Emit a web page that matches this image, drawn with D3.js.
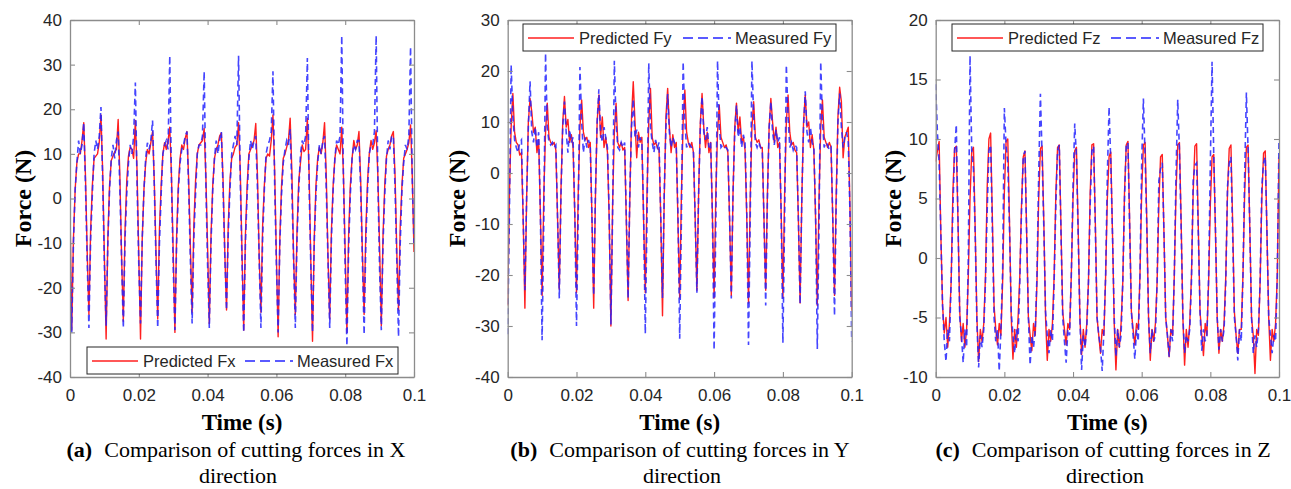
<!DOCTYPE html>
<html>
<head>
<meta charset="utf-8">
<script src="https://cdn.jsdelivr.net/npm/d3@7"></script>
<style>
  body { margin: 0; background: #fff; }
</style>
</head>
<body>
<svg id="chart" width="1291" height="489"></svg>
<script>
// sampled signals, one value every dt seconds from t = 0 to t = 0.1
const dt = 0.0005;

const timeTicks = [0, 0.02, 0.04, 0.06, 0.08, 0.1];
const timeTickLabels = ['0', '0.02', '0.04', '0.06', '0.08', '0.1'];
const fxTicks = [-40, -30, -20, -10, 0, 10, 20, 30, 40];
const fyTicks = [-40, -30, -20, -10, 0, 10, 20, 30];
const fzTicks = [-10, -5, 0, 5, 10, 15, 20];

const fxPred = [
  -2,
  -29.5, -9, 2, 8, 10, 10, 13, 17, 5, -12,
  -26, -7, 3, 9, 9.5, 10, 12.5, 18.7, 6, -13,
  -31.5, -9, 3, 8.5, 9.5, 10.5, 11, 17.7, 5, -13,
  -27.5, -7, 4, 9.5, 11.5, 11, 9, 17.5, 6, -13,
  -31.5, -9, 2, 8, 11, 10, 12.5, 15, 4, -12,
  -27, -7, 3, 10, 12.5, 11, 13, 16, 5, -12,
  -30, -8, 3, 9, 12, 11, 13.5, 15, 4, -11,
  -25.5, -6, 4, 10, 12, 12.5, 13, 15.7, 5, -11,
  -28, -8, 3, 9, 11, 12, 14, 14.7, 4, -12,
  -25, -6, 4, 9, 10, 11.5, 12, 17, 6, -12,
  -29.5, -8, 3, 10, 11, 12, 13, 16.8, 5, -13,
  -25.5, -6, 3, 9, 10, 9.5, 13, 18.7, 6, -13,
  -31, -9, 3, 9, 10, 11.5, 13, 18, 6, -13,
  -26, -7, 4, 8, 12, 10.5, 11, 18, 6, -14,
  -32, -9, 3, 9, 11.5, 10, 12.5, 17, 5, -13,
  -27, -7, 3, 9, 12, 11, 10, 16, 5, -12,
  -30, -8, 3, 9, 13, 11, 12, 15, 4, -12,
  -26, -7, 4, 10, 13, 11, 12.5, 15.2, 5, -11,
  -28.5, -8, 3, 9.5, 11, 12, 14, 15, 5, -12,
  -25, -6, 3, 9, 10, 11, 12.5, 16.5, 5, -12
];

const fxMeas = [
  -12,
  -30, -10, 2, 8, 13, 10, 12, 17, 3, -14,
  -29, -9, 1, 10, 13, 11, 14, 20.5, 4, -15,
  -28.5, -10, 2, 9, 12, 9, 13, 15, 2, -14,
  -29, -9, 1, 8, 12, 10, 14, 26, 3, -15,
  -28, -9, 2, 9, 12.5, 11, 13, 17.5, 3, -14,
  -29, -10, 1, 10, 12, 13, 11, 32, 4, -15,
  -29.5, -10, 2, 8, 11, 12, 14, 15, 2, -14,
  -28, -9, 1, 10, 12, 12, 14, 28.5, 3, -15,
  -29, -10, 2, 9, 13, 10, 13, 15, 2, -13,
  -25, -8, 2, 10, 12, 14, 12, 32, 4, -14,
  -30, -10, 1, 9, 13, 11, 13, 14, 2, -14,
  -29, -9, 2, 10, 12, 13, 15, 28.5, 3, -15,
  -30, -10, 1, 8, 11, 13, 12, 15.5, 2, -14,
  -29, -9, 2, 10, 13, 12, 14, 31.5, 3, -15,
  -30, -10, 1, 8, 12, 10, 13, 14, 2, -14,
  -29, -9, 2, 9, 13, 12, 14, 36.5, 4, -16,
  -33, -11, 1, 9, 12, 11, 13, 13, 2, -14,
  -30.5, -10, 2, 10, 12, 12, 15, 36.5, 4, -16,
  -29.5, -10, 1, 9, 13, 11, 14, 14, 2, -14,
  -31, -10, 2, 8, 12, 11, 14, 34, 4, -10
];

const fyPred = [
  -26, -4, 9, 15.6, 8, 6, 5.5, 3.5, 4, -9,
  -26.5, -5, 10, 14.6, 12, 8, 9, 4, 6.5, -8,
  -24, -4, 8, 13.7, 7, 6, 5.5, 6, 4.5, -9,
  -22.8, -3, 10, 15, 9, 10.5, 6, 7.5, 5, -8,
  -23.5, -4, 9, 14.3, 8, 6.5, 7, 5, 6, -9,
  -26.5, -5, 10, 15.3, 7, 11, 5, 7, 4, -9,
  -30, -6, 8, 13.7, 6, 5, 6, 4.5, 5, -10,
  -25, -5, 11, 17.9, 10, 3, 8, 6, 7, -9,
  -23.5, -4, 10, 16.6, 7, 5.5, 6, 5, 4.5, -9,
  -28, -5, 11, 16.6, 9, 4, 7.5, 5, 6, -10,
  -24.5, -4, 10, 16.3, 8, 6, 5, 6, 4, -9,
  -23, -4, 10, 15.6, 9, 5, 8, 4, 6, -8,
  -24.5, -4, 8, 13.3, 7, 6, 5, 5.5, 4, -9,
  -24, -4, 9, 13.7, 8, 11, 6, 7, 4.5, -9,
  -25.5, -5, 9, 14, 7, 6, 6.5, 5, 5, -9,
  -23, -4, 9, 14.6, 10, 6, 9, 5, 6, -8,
  -24.5, -4, 10, 15.3, 8, 5.5, 6, 4.5, 4, -9,
  -25.5, -5, 10, 15.3, 9, 10, 5, 7.5, 4.5, -9,
  -26, -5, 9, 14.3, 7, 6, 5, 6, 5, -9,
  -24, -4, 11, 16.8, 14, 3, 7, 8, 9, -7,
  -27
];

const fyMeas = [
  -31.6, -8, 21.2, 11, 6.5, 5, 4, 6, 6.5, -9,
  -23, -5, 9, 18, 8, 6, 9, 5, 8, -8,
  -32.8, -9, 23.5, 9, 6, 5.5, 6, 5, 5.5, -9,
  -24.6, -4, 9, 14, 8, 4, 8.5, 6, 7, -8,
  -30, -8, 20.8, 10, 4, 7, 5, 6.5, 5, -9,
  -24, -4, 10, 16.4, 8, 6, 9, 7, 5, -8,
  -29.7, -8, 22, 10, 5, 4.5, 6, 5, 6, -9,
  -24.6, -4, 9, 14.5, 7, 8.5, 5, 7, 6, -8,
  -31.5, -9, 21.5, 9, 6, 4, 6.5, 5, 6, -9,
  -24.5, -4, 9, 15.5, 8, 5, 7, 6, 5, -8,
  -32.5, -9, 21.8, 10, 5, 6, 5.5, 5, 4, -9,
  -23.5, -4, 9, 15, 8, 6.5, 9, 5, 6, -8,
  -34.7, -10, 22, 9, 5, 5.5, 5, 5, 4.5, -9,
  -24.6, -4, 8, 13.3, 7, 9, 5, 7.5, 6, -8,
  -33.7, -9, 22, 11, 6, 5, 6, 5, 4.5, -9,
  -26, -5, 9, 14, 8, 5.5, 8.5, 6, 7, -8,
  -33.3, -9, 21.2, 11, 5, 6, 4.5, 5.5, 5, -9,
  -25.7, -5, 9, 16, 8, 6, 9, 6, 5, -8,
  -34.5, -10, 21.8, 10, 5, 6, 5.5, 4.5, 5, -9,
  -28, -6, 10, 15.6, 9, 5, 7, 8, 6, -8,
  -33
];

const fzPred = [
  8.1, 9, 9.8, 2, -4, -6.3, -5, -7.5, -5.5, -2,
  5.5, 9.2, 9.4, 3, -4.5, -7, -5.5, -7.5, -6, -1.5,
  5, 9, 9.3, 2.5, -5, -8.7, -6, -7, -5.5, -1.5,
  6, 10, 10.5, 3.5, -4, -6, -7.3, -5.5, -6.5, -2,
  5.5, 9.8, 10, 3, -5, -8.5, -6, -7.5, -5, -1.5,
  4.5, 8.5, 9, 2, -5, -6.5, -7.8, -5.5, -6.5, -2,
  5, 9.2, 9.4, 3, -5, -8.6, -6, -7, -5.5, -1.5,
  5.5, 9.3, 9.5, 2.5, -4.5, -6, -7.3, -5.5, -6, -1.5,
  5, 9, 9.3, 2.5, -5, -8.1, -6, -7.5, -5.5, -2,
  5.5, 9.5, 9.6, 3, -5, -6.5, -8, -6, -6.5, -1.5,
  5, 8.5, 8.9, 2, -5.5, -9.4, -6, -7.5, -5.5, -2,
  5.5, 9.5, 9.8, 3, -4.5, -6, -7.3, -5.5, -6, -1.5,
  5.5, 9.5, 9.7, 3, -5, -8.6, -6, -7, -5.5, -2,
  4.5, 8.5, 8.7, 2, -5, -6.5, -8.3, -6, -6.5, -1.5,
  5.5, 9.5, 9.7, 3, -5, -9, -6, -7.5, -5.5, -1.5,
  5.5, 9.4, 9.6, 2.5, -4.5, -6.5, -8.2, -5.5, -6.5, -2,
  4.5, 8.5, 8.7, 2, -5, -8, -6, -7, -5.5, -1.5,
  5.5, 9.2, 9.5, 3, -4.5, -6.5, -8, -6, -6, -1.5,
  5.5, 9.3, 9.5, 2.5, -5, -6.5, -9.7, -6, -6.5, -2,
  5, 8.8, 9, 2, -5, -8.6, -6, -7, -5.5, -1.5,
  8.5
];

const fzMeas = [
  14.6, 10.5, 8, 2, -4, -7, -8.7, -6, -7, -2,
  4, 9, 11.2, 3, -5, -6.5, -8.8, -6, -7.5, 0,
  17, 9, 7.5, 2, -5.5, -9.2, -6.5, -7.5, -6, -2,
  4, 9, 9.5, 2.5, -5, -7, -6, -9.5, -6, -1,
  12.6, 9.5, 8, 2.5, -4.5, -6.5, -8, -6, -7, -2,
  4, 8.5, 9, 2, -5, -9, -6.5, -7.5, -6, -1.5,
  7, 13.8, 8.5, 2.5, -4.5, -6.5, -8, -6, -7, -2,
  4.5, 9, 9.5, 2, -5, -7, -8.8, -6, -6.5, -1.5,
  6, 11.3, 8.5, 2, -5, -9.4, -6.5, -7.5, -6, -2,
  4.5, 9, 9.4, 2.5, -5, -6.5, -7.5, -9.5, -6, -1.5,
  7, 12.7, 8, 2, -5, -8.3, -6, -7.5, -6.5, -2,
  5, 9.5, 9.7, 2.5, -4.5, -6.5, -8.5, -6, -7, -1.5,
  8, 13.4, 8.5, 2.5, -5, -8, -6, -7, -6.5, -2,
  6.5, 7.5, 8, 2, -5, -6.5, -8.3, -6, -7, -1.5,
  7, 13.3, 9, 2.5, -5, -8, -6.5, -7, -6, -2,
  6.5, 7.8, 8, 2, -4.5, -7.8, -6, -7, -6.5, -1.5,
  8, 16.5, 8.5, 2.5, -5, -7.7, -6, -7, -6, -2,
  6, 8, 8.5, 2, -5, -6.5, -8.6, -6, -7, -1.5,
  7, 13.9, 9, 2.5, -5, -8, -6.5, -7.5, -6, -2,
  6, 8, 8.5, 2, -5, -6.5, -8, -6.5, -7, -1.5,
  10
];

const axisGrey = '#8c8c8c';
const textDark = '#262626';
const sans = "'Liberation Sans', Arial, sans-serif";
const serif = "'Liberation Serif', 'Times New Roman', serif";
const plotTop = 20;
const plotBottom = 377;

const svg = d3.select('#chart');

function drawPanel(p) {
    const x = d3.scaleLinear()
        .domain([0, 0.1])
        .range([p.left, p.right]);

    const y = d3.scaleLinear()
        .domain([p.yTicks[0], p.yTicks[p.yTicks.length - 1]])
        .range([plotBottom, plotTop]);

    const g = svg.append('g');

    const clipId = `clip-${p.id}`;
    g.append('clipPath')
        .attr('id', clipId)
        .append('rect')
        .attr('x', p.left)
        .attr('y', plotTop)
        .attr('width', p.right - p.left)
        .attr('height', plotBottom - plotTop);

    const line = d3.line()
        .x((d, i) => x(i * dt))
        .y(d => y(d));

    const plot = g.append('g').attr('clip-path', `url(#${clipId})`);

    plot.append('path')
        .datum(p.pred)
        .attr('fill', 'none')
        .attr('stroke', '#ff1f1f')
        .attr('stroke-width', 1.4)
        .attr('stroke-linejoin', 'round')
        .attr('d', line);

    plot.append('path')
        .datum(p.meas)
        .attr('fill', 'none')
        .attr('stroke', '#2424ff')
        .attr('stroke-opacity', 0.85)
        .attr('stroke-width', 1.6)
        .attr('stroke-dasharray', '6,4')
        .attr('d', line);

    const styleAxis = (a) => {
        a.attr('font-family', sans).attr('font-size', 17);
        a.select('.domain').attr('stroke', axisGrey).attr('stroke-width', 1.3);
        a.selectAll('.tick line').attr('stroke', axisGrey).attr('stroke-width', 1.1);
        a.selectAll('.tick text').attr('fill', textDark);
    };

    g.append('g')
        .attr('transform', `translate(0, ${plotBottom})`)
        .call(d3.axisBottom(x).tickValues(timeTicks)
            .tickFormat((d, i) => timeTickLabels[i])
            .tickSizeInner(-5).tickSizeOuter(0).tickPadding(12))
        .call(styleAxis);

    g.append('g')
        .attr('transform', `translate(0, ${plotTop})`)
        .call(d3.axisTop(x).tickValues(timeTicks).tickFormat('')
            .tickSizeInner(-5).tickSizeOuter(0))
        .call(styleAxis);

    g.append('g')
        .attr('transform', `translate(${p.left}, 0)`)
        .call(d3.axisLeft(y).tickValues(p.yTicks)
            .tickFormat(d => String(d))
            .tickSizeInner(-5).tickSizeOuter(0).tickPadding(8))
        .call(styleAxis);

    g.append('g')
        .attr('transform', `translate(${p.right}, 0)`)
        .call(d3.axisRight(y).tickValues(p.yTicks).tickFormat('')
            .tickSizeInner(-5).tickSizeOuter(0))
        .call(styleAxis);

    // axis titles
    g.append('text')
        .attr('transform', `translate(${p.yLabelX}, ${(plotTop + plotBottom) / 2}) rotate(-90)`)
        .attr('text-anchor', 'middle')
        .attr('dominant-baseline', 'central')
        .attr('font-family', serif)
        .attr('font-weight', 'bold')
        .attr('font-size', 24)
        .attr('fill', '#000')
        .text('Force (N)');

    g.append('text')
        .attr('x', (p.left + p.right) / 2)
        .attr('y', 430)
        .attr('text-anchor', 'middle')
        .attr('font-family', serif)
        .attr('font-weight', 'bold')
        .attr('font-size', 23)
        .attr('fill', '#000')
        .text('Time (s)');

    // caption
    const cap = g.append('text')
        .attr('x', p.captionX)
        .attr('y', 457)
        .attr('text-anchor', 'middle')
        .attr('font-family', serif)
        .attr('font-size', 22)
        .attr('fill', '#000');
    cap.append('tspan').attr('font-weight', 'bold').text(p.tag);
    cap.append('tspan').attr('dx', 12).text(`Comparison of cutting forces in ${p.axisName}`);

    g.append('text')
        .attr('x', p.captionX + 2)
        .attr('y', 483)
        .attr('text-anchor', 'middle')
        .attr('font-family', serif)
        .attr('font-size', 22)
        .attr('fill', '#000')
        .text('direction');

    // legend
    const lg = p.legend;
    const leg = g.append('g').attr('transform', `translate(${lg.x}, ${lg.y})`);
    leg.append('rect')
        .attr('width', lg.w)
        .attr('height', 27)
        .attr('fill', '#fff')
        .attr('stroke', '#262626')
        .attr('stroke-width', 1);
    leg.append('line')
        .attr('x1', 5).attr('x2', 51)
        .attr('y1', 14).attr('y2', 14)
        .attr('stroke', '#ff1f1f')
        .attr('stroke-width', 1.4);
    leg.append('text')
        .attr('x', 56).attr('y', 20)
        .attr('font-family', sans).attr('font-size', 16.5)
        .attr('fill', textDark)
        .text(`Predicted F${p.sub}`);
    leg.append('line')
        .attr('x1', lg.blueX).attr('x2', lg.blueX + 48)
        .attr('y1', 14).attr('y2', 14)
        .attr('stroke', '#2424ff')
        .attr('stroke-width', 1.6)
        .attr('stroke-dasharray', '10,5');
    leg.append('text')
        .attr('x', lg.blueX + 52).attr('y', 20)
        .attr('font-family', sans).attr('font-size', 16.5)
        .attr('fill', textDark)
        .text(`Measured F${p.sub}`);
}

drawPanel({
    id: 'a', left: 70, right: 414, yTicks: fxTicks,
    pred: fxPred, meas: fxMeas, sub: 'x', tag: '(a)', axisName: 'X',
    yLabelX: 23, captionX: 236,
    legend: { x: 87, y: 347, w: 311, blueX: 158 }
});

drawPanel({
    id: 'b', left: 507.7, right: 851.7, yTicks: fyTicks,
    pred: fyPred, meas: fyMeas, sub: 'y', tag: '(b)', axisName: 'Y',
    yLabelX: 457, captionX: 680,
    legend: { x: 523, y: 24, w: 313, blueX: 160 }
});

drawPanel({
    id: 'c', left: 935.7, right: 1279, yTicks: fzTicks,
    pred: fzPred, meas: fzMeas, sub: 'z', tag: '(c)', axisName: 'Z',
    yLabelX: 893, captionX: 1103,
    legend: { x: 952, y: 24, w: 311, blueX: 159 }
});
</script>
</body>
</html>
